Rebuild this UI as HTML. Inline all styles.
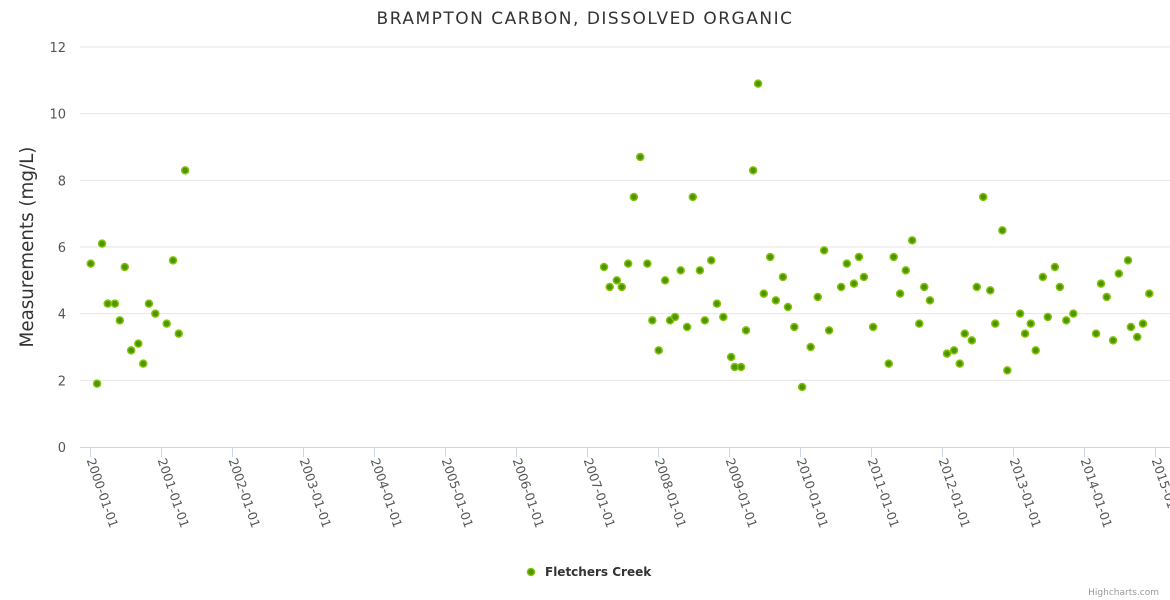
<!DOCTYPE html>
<html><head><meta charset="utf-8"><style>
body{margin:0;background:#fff}
svg{font-family:"DejaVu Sans","Liberation Sans",sans-serif;display:block}
</style></head><body>
<svg id="chart" width="1170" height="600">
<text x="585" y="24" text-anchor="middle" font-size="17" letter-spacing="1.5" fill="#333">BRAMPTON CARBON, DISSOLVED ORGANIC</text>
<text transform="translate(33,247) rotate(-90)" text-anchor="middle" font-size="18.3" fill="#333">Measurements (mg/L)</text>
<g id="grid"></g><g id="xaxis"></g><g id="pts"></g>
<g>
<circle cx="531" cy="572" r="3.5" fill="#4b9600" stroke="#86c20a" stroke-width="1.5"></circle>
<text x="545" y="576" font-size="12" font-weight="bold" fill="#333">Fletchers Creek</text>
</g>
<text x="1159" y="595" text-anchor="end" font-size="9" fill="#999">Highcharts.com</text>
</svg>
<script>
const dates=[2000.01,2000.10,2000.17,2000.25,2000.35,2000.42,2000.49,2000.58,2000.68,2000.75,2000.83,2000.92,2001.08,2001.17,2001.25,2001.34,
2007.24,2007.32,2007.42,2007.49,2007.58,2007.66,2007.75,2007.85,2007.92,2008.01,2008.10,2008.17,2008.24,2008.32,2008.41,2008.49,2008.59,2008.66,2008.75,2008.83,2008.92,2009.03,2009.08,2009.17,2009.24,2009.34,2009.41,2009.49,2009.58,2009.66,2009.76,2009.83,2009.92,2010.03,2010.15,2010.25,2010.34,2010.41,2010.58,2010.66,2010.76,2010.83,2010.90,2011.03,2011.25,2011.32,2011.41,2011.49,2011.58,2011.68,2011.75,2011.83,2012.07,2012.17,2012.25,2012.32,2012.42,2012.49,2012.58,2012.68,2012.75,2012.85,2012.92,2013.10,2013.17,2013.25,2013.32,2013.42,2013.49,2013.59,2013.66,2013.75,2013.85,2014.17,2014.24,2014.32,2014.41,2014.49,2014.62,2014.66,2014.75,2014.83,2014.92];
const values=[5.5,1.9,6.1,4.3,4.3,3.8,5.4,2.9,3.1,2.5,4.3,4.0,3.7,5.6,3.4,8.3,
5.4,4.8,5.0,4.8,5.5,7.5,8.7,5.5,3.8,2.9,5.0,3.8,3.9,5.3,3.6,7.5,5.3,3.8,5.6,4.3,3.9,2.7,2.4,2.4,3.5,8.3,10.9,4.6,5.7,4.4,5.1,4.2,3.6,1.8,3.0,4.5,5.9,3.5,4.8,5.5,4.9,5.7,5.1,3.6,2.5,5.7,4.6,5.3,6.2,3.7,4.8,4.4,2.8,2.9,2.5,3.4,3.2,4.8,7.5,4.7,3.7,6.5,2.3,4.0,3.4,3.7,2.9,5.1,3.9,5.4,4.8,3.8,4.0,3.4,4.9,4.5,3.2,5.2,5.6,3.6,3.3,3.7,4.6];
const yTicks=[0,2,4,6,8,10,12];
const xTicks=[2000,2001,2002,2003,2004,2005,2006,2007,2008,2009,2010,2011,2012,2013,2014,2015];
const NS="http://www.w3.org/2000/svg";
const X=v=>90+(v-2000)*71, Y=v=>447-v*(400/12);
function mk(t,a,p){const e=document.createElementNS(NS,t);for(const k in a)e.setAttribute(k,a[k]);p.appendChild(e);return e;}
const grid=document.getElementById('grid'),xa=document.getElementById('xaxis'),pts=document.getElementById('pts');
yTicks.forEach(t=>{
 if(t>0){const l=mk('line',{x1:80,x2:1170,y1:Y(t),y2:Y(t),stroke:'#e6e6e6'},grid);
 
 }
 const tx=mk('text',{x:66,y:Y(t)+5,'text-anchor':'end','font-size':13,fill:'#555'},grid);tx.textContent=t;
 
 
});
const ax=mk('line',{x1:80,x2:1170,y1:447.5,y2:447.5,stroke:'#ccd6eb'},xa);


xTicks.forEach(t=>{
 const x=Math.round(X(t))+0.5;
 mk('line',{x1:x,x2:x,y1:447,y2:457,stroke:'#ccd6eb'},xa);
 const tx=mk('text',{transform:`translate(${x-4},${460}) rotate(71)`,'font-size':12.5,fill:'#555'},xa);
 tx.textContent=t+'-01-01';
 
 
});
dates.forEach((d,i)=>{
 const c=mk('circle',{cx:X(d),cy:Y(values[i]),r:3.5,fill:'#4b9600',stroke:'#86c20a','stroke-width':1.5},pts);
 
 
});
</script>
</body></html>
